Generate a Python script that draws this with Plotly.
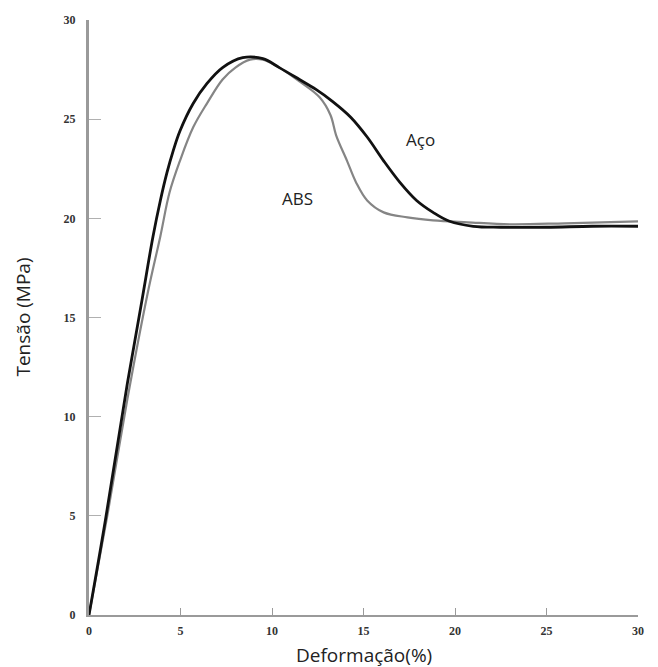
import plotly.graph_objects as go

# Aço (steel) curve
aco_x = [0, 0.9, 2.1, 2.9, 3.5, 3.9, 4.26, 4.6, 4.97, 5.7, 6.45, 7.3, 8.4, 9.5, 10.4, 11.5,
         12.4, 13.3, 14.3, 15.2, 16.1, 17.0, 17.9, 18.8, 19.7, 21.0, 22.5, 25.0, 27.5, 30.0]
aco_y = [0, 4.8, 11.7, 15.9, 19.1, 20.9, 22.3, 23.4, 24.4, 25.8, 26.8, 27.6, 28.1, 28.05, 27.6, 27.0,
         26.5, 25.9, 25.1, 24.1, 22.9, 21.8, 20.9, 20.3, 19.85, 19.6, 19.55, 19.55, 19.6, 19.6]

# ABS curve
abs_x = [0, 1.0, 2.1, 3.2, 3.9, 4.4, 4.97, 5.7, 6.45, 7.3, 8.0, 8.8, 9.5, 10.4, 11.5,
         12.6, 13.2, 13.5, 14.1, 14.6, 15.2, 16.1, 17.4, 18.8, 20.7, 23.0, 26.0, 30.0]
abs_y = [0, 5.0, 10.9, 16.2, 19.1, 21.3, 22.9, 24.6, 25.8, 27.0, 27.6, 28.0, 28.0, 27.6, 26.9,
         26.1, 25.2, 24.2, 22.9, 21.8, 20.9, 20.3, 20.05, 19.9, 19.8, 19.7, 19.75, 19.85]

tick_vals = [0, 5, 10, 15, 20, 25, 30]
tick_text = ["0", "5", "10", "15", "20", "25", "30"]

labels = ["Aço", "ABS"]
label_x = [18.1, 11.4]
label_y = [24.0, 21.0]

fig = go.Figure()
fig.add_trace(go.Scatter(x=abs_x, y=abs_y, mode="lines", name="ABS",
                         line=dict(color="#858585", width=2.2, shape="spline", smoothing=1.0)))
fig.add_trace(go.Scatter(x=aco_x, y=aco_y, mode="lines", name="Aço",
                         line=dict(color="#111111", width=2.8, shape="spline", smoothing=1.0)))

for t, lx, ly in zip(labels, label_x, label_y):
    fig.add_annotation(x=lx, y=ly, text=t, showarrow=False,
                       font=dict(family="Open Sans", size=17, color="#222222"))

# axis titles placed as paper annotations
fig.add_annotation(x=0.5, y=-0.067, xref="paper", yref="paper", text="Deformação(%)",
                   showarrow=False, xanchor="center", yanchor="middle",
                   font=dict(family="Open Sans", size=19, color="#222222"))
fig.add_annotation(x=-0.122, y=0.5, xref="paper", yref="paper", text="Tensão (MPa)",
                   showarrow=False, xanchor="center", yanchor="middle", textangle=-90,
                   font=dict(family="Open Sans", size=19, color="#222222"))

tickfont = dict(family="Liberation Serif", size=12, color="#333333", weight="bold")

fig.update_layout(
    width=658, height=667,
    margin=dict(l=89, r=20, t=20, b=52),
    paper_bgcolor="white", plot_bgcolor="white",
    showlegend=False,
    xaxis=dict(range=[0, 30], tickvals=tick_vals, ticktext=tick_text, automargin=False,
               showgrid=False, zeroline=False, showline=True, linecolor="#9a9a9a", linewidth=1.5,
               ticks="inside", ticklen=7, tickcolor="#9a9a9a", tickwidth=1,
               tickfont=tickfont, ticklabelstandoff=4),
    yaxis=dict(range=[0, 30], tickvals=tick_vals, ticktext=tick_text, automargin=False,
               showgrid=False, zeroline=False, showline=True, linecolor="#9a9a9a", linewidth=3,
               ticks="inside", ticklen=12, tickcolor="#b0b0b0", tickwidth=1,
               tickfont=tickfont, ticklabelstandoff=8),
)

fig.write_html("out.html", post_script="document.body.style.margin='0';",
               config={"displayModeBar": False})
